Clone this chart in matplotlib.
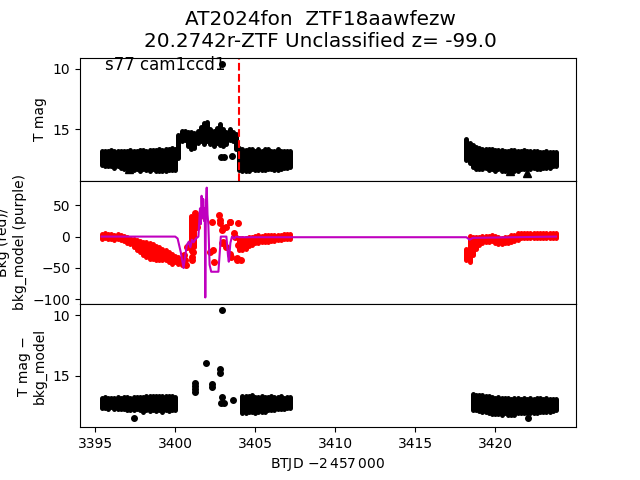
import numpy as np
import matplotlib
matplotlib.use('Agg')
import matplotlib.pyplot as plt

nan = np.nan

# sample times (BTJD - 2457000), first orbit and second orbit
t_a = [3395.4, 3395.6, 3395.8, 3396.0, 3396.2, 3396.4, 3396.6, 3396.8, 3397.0, 3397.2,
       3397.4, 3397.6, 3397.8, 3398.0, 3398.2, 3398.4, 3398.6, 3398.8, 3399.0, 3399.2,
       3399.4, 3399.6, 3399.8, 3400.0, 3400.2, 3400.4, 3400.6, 3400.8, 3401.0, 3401.2,
       3401.4, 3401.6, 3401.8, 3402.0, 3402.2, 3402.4, 3402.6, 3402.8, 3403.0, 3403.2,
       3403.4, 3403.6, 3403.8, 3404.0, 3404.2, 3404.4, 3404.6, 3404.8, 3405.0, 3405.2,
       3405.4, 3405.6, 3405.8, 3406.0, 3406.2, 3406.4, 3406.6, 3406.8, 3407.0, 3407.2]
t_b = [3418.2, 3418.4, 3418.6, 3418.8, 3419.0, 3419.2, 3419.4, 3419.6, 3419.8, 3420.0,
       3420.2, 3420.4, 3420.6, 3420.8, 3421.0, 3421.2, 3421.4, 3421.6, 3421.8, 3422.0,
       3422.2, 3422.4, 3422.6, 3422.8, 3423.0, 3423.2, 3423.4, 3423.6, 3423.8]

# T mag: typical value and scatter at each sample
tmag_a = [17.35, 17.4, 17.4, 17.35, 17.45, 17.4, 17.45, 17.5, 17.5, 17.45,
          17.55, 17.5, 17.55, 17.5, 17.55, 17.55, 17.5, 17.55, 17.5, 17.55,
          17.5, 17.5, 17.45, 17.5, 16.45, 15.55, 15.5, 15.8, 15.9, 15.9,
          15.6, 15.4, 15.35, 15.2, 15.6, 15.75, 15.5, 15.45, 15.7, 15.7,
          15.45, 15.6, 16.0, 17.45, 17.5, 17.55, 17.5, 17.45, 17.55, 17.5,
          17.55, 17.5, 17.45, 17.5, 17.55, 17.5, 17.5, 17.45, 17.5, 17.45]
tmag_sd_a = [0.6, 0.65, 0.6, 0.65, 0.7, 0.65, 0.7, 0.75, 0.7, 0.75,
             0.8, 0.75, 0.85, 0.8, 0.8, 0.85, 0.8, 0.85, 0.9, 0.85,
             0.9, 0.85, 0.9, 0.85, 0.95, 0.45, 0.4, 0.6, 0.7, 0.6,
             0.5, 0.6, 0.85, 0.8, 0.6, 0.65, 0.6, 0.85, 0.7, 0.5,
             0.45, 0.4, 0.6, 0.9, 0.9, 0.85, 0.9, 0.85, 0.8, 0.85,
             0.8, 0.85, 0.8, 0.75, 0.8, 0.85, 0.75, 0.7, 0.7, 0.65]
tmag_b = [16.65, 16.95, 17.2, 17.35, 17.4, 17.45, 17.4, 17.5, 17.45, 17.55,
          17.5, 17.55, 17.6, 17.55, 17.5, 17.55, 17.6, 17.55, 17.5, 17.55,
          17.5, 17.45, 17.5, 17.55, 17.5, 17.45, 17.5, 17.45, 17.45]
tmag_sd_b = [0.85, 0.85, 0.9, 0.9, 0.85, 0.85, 0.8, 0.85, 0.8, 0.85,
             0.8, 0.85, 0.85, 0.8, 0.8, 0.85, 0.8, 0.75, 0.8, 0.75,
             0.75, 0.7, 0.75, 0.7, 0.65, 0.7, 0.65, 0.6, 0.6]
tmag_pts_t = [3402.92, 3402.85, 3403.05, 3403.55]
tmag_pts = [9.65, 17.25, 17.25, 17.2]
ulim_t = [3397.1, 3420.9, 3421.98]
ulim_mag = [18.3, 18.45, 18.6]
event_t = 3403.96

# background flux (red) and background model (purple)
bkg_a = [0, 1, 0, 0, -1, 0, -1, -3, -5, -7,
         -10, -13, -16, -19, -21, -23, -24, -26, -27, -29,
         -30, -33, -36, -36, -38, -40, nan, nan, 5, 8,
         nan, nan, nan, nan, nan, nan, nan, nan, nan, nan,
         nan, nan, nan, -12, -12, -11, -8, -7, -5, -4,
         -4, -3, -3, -2, -2, -2, -1, 0, 0, 0]
bkg_sd_a = [4, 4, 4, 4, 4, 4, 4, 4, 5, 5,
            6, 8, 9, 11, 12, 12, 12, 11, 10, 9,
            8, 8, 8, 5, 6, 6, nan, nan, 28, 25,
            nan, nan, nan, nan, nan, nan, nan, nan, nan, nan,
            nan, nan, nan, 10, 10, 9, 7, 7, 6, 6,
            5, 5, 5, 5, 5, 4, 4, 4, 4, 4]
bkg_b = [-29, -20, -15, -10, -7, -5, -4, -4, -2, -5,
         -6, -7, -5, -5, -3, -2, 0, 1, 1, 1,
         2, 1, 1, 2, 1, 1, 2, 1, 1]
bkg_sd_b = [9, 21, 14, 9, 6, 6, 5, 5, 5, 6,
            6, 5, 5, 5, 6, 5, 5, 4, 4, 4,
            4, 4, 4, 4, 4, 4, 4, 4, 4]
bkg_pts_t = [3400.55, 3400.6, 3400.65, 3400.73, 3401.04, 3401.05, 3401.14, 3401.25,
             3401.35, 3401.45, 3401.5, 3402.2, 3402.3, 3402.35, 3402.4, 3402.71,
             3402.8, 3402.8, 3402.9, 3402.9, 3403.0, 3403.0, 3403.2, 3403.2,
             3403.4, 3403.4, 3403.44, 3403.5, 3403.7, 3403.75, 3403.85, 3403.85,
             3403.9, 3403.9, 3404.1]
bkg_pts = [-30, -37, -45, -16, -32, -37, -24, 37,
           16, 24, 32, -24, 24, -21, -40, 35,
           27, 22, 11, -11, 13, -8, 16, -16,
           24, -27, 24, -32, 6, 0, -37, -34,
           21, -13, -37]
model_t = [3395.4, 3397.0, 3399.0, 3400.0, 3400.15, 3400.35, 3400.52, 3400.6,
           3400.73, 3400.85, 3400.95, 3401.05, 3401.15, 3401.3, 3401.45, 3401.55,
           3401.6, 3401.65, 3401.7, 3401.75, 3401.8, 3401.85, 3401.88, 3401.92,
           3401.97, 3402.02, 3402.07, 3402.15, 3402.25, 3402.7, 3402.8, 3402.85,
           3403.2, 3403.3, 3403.35, 3403.45, 3403.55, 3403.7, 3403.8, 3404.0,
           3407.2, 3418.2, 3418.4, 3418.6, 3423.8]
model = [0, 0, 0, 0, -3, -25, -50, -35,
         -13, -8, -17, -5, -9, -3, 0, 45,
         20, 65, 30, 60, 25, 45, -97, 55,
         78, 35, 20, -45, -56, -56, -20, 0,
         0, -30, -40, -10, 0, -3, 0, -1,
         -1, -1, -5, -2, 0]

# T mag - bkg_model
diff_a = [17.25, 17.2, 17.25, 17.2, 17.3, 17.25, 17.3, 17.25, 17.3, 17.35,
          17.3, 17.25, 17.3, 17.35, 17.25, 17.3, 17.25, 17.3, 17.25, 17.3,
          17.25, 17.3, 17.25, 17.3, nan, nan, nan, nan, nan, nan,
          nan, nan, nan, nan, nan, nan, nan, nan, nan, nan,
          nan, nan, nan, nan, 17.35, 17.4, 17.35, 17.3, 17.4, 17.35,
          17.3, 17.35, 17.3, 17.25, 17.3, 17.25, 17.2, 17.25, 17.2, 17.2]
diff_sd_a = [0.4, 0.45, 0.45, 0.4, 0.45, 0.5, 0.45, 0.5, 0.55, 0.5,
             0.55, 0.5, 0.55, 0.6, 0.55, 0.6, 0.55, 0.6, 0.6, 0.65,
             0.6, 0.6, 0.6, 0.55, nan, nan, nan, nan, nan, nan,
             nan, nan, nan, nan, nan, nan, nan, nan, nan, nan,
             nan, nan, nan, nan, 0.7, 0.7, 0.65, 0.7, 0.65, 0.6,
             0.65, 0.6, 0.55, 0.6, 0.55, 0.5, 0.5, 0.45, 0.45, 0.45]
diff_b = [nan, nan, 17.15, 17.2, 17.25, 17.3, 17.35, 17.4, 17.45, 17.5,
          17.45, 17.5, 17.45, 17.5, 17.55, 17.5, 17.45, 17.5, 17.45, 17.5,
          17.45, 17.5, 17.45, 17.4, 17.45, 17.4, 17.45, 17.4, 17.4]
diff_sd_b = [nan, nan, 0.65, 0.65, 0.65, 0.7, 0.65, 0.7, 0.7, 0.65,
             0.7, 0.7, 0.65, 0.7, 0.65, 0.7, 0.65, 0.6, 0.65, 0.6,
             0.6, 0.55, 0.6, 0.55, 0.5, 0.55, 0.5, 0.5, 0.45]
diff_pts_t = [3402.92, 3401.94, 3402.81, 3402.81, 3401.25, 3401.25, 3401.25, 3401.25,
              3402.3, 3402.3, 3402.92, 3402.85, 3403.05, 3403.64, 3422.08, 3397.4]
diff_pts = [9.6, 13.98, 14.45, 14.8, 15.6, 15.85, 16.1, 16.35,
            15.65, 15.95, 16.73, 17.28, 17.28, 17.0, 18.5, 18.45]


def band(ax, t, mid, sd, color):
    """Draw the dense cloud of points as a scatter band."""
    mid = np.array(mid, dtype=float)
    sd = np.array(sd, dtype=float)
    ok = ~np.isnan(mid)
    t = np.array(t)[ok]
    ax.vlines(t, mid[ok] - sd[ok], mid[ok] + sd[ok], colors=color, lw=3.6, capstyle='round')


fig, axes = plt.subplots(3, 1, sharex=True, figsize=(6.4, 4.8), dpi=100)
fig.subplots_adjust(hspace=0)
fig.suptitle("AT2024fon  ZTF18aawfezw\n20.2742r-ZTF Unclassified z= -99.0", fontsize=14.4)

# top: T mag
ax = axes[0]
band(ax, t_a, tmag_a, tmag_sd_a, 'k')
band(ax, t_b, tmag_b, tmag_sd_b, 'k')
ax.plot(tmag_pts_t, tmag_pts, 'ko', ms=4)
ax.plot(ulim_t, ulim_mag, 'k^', ms=6)
ax.axvline(event_t, color='r', ls='--', lw=1.5)
ax.text(3395.6, 10.1, "s77 cam1ccd1", fontsize=12)
ax.set_ylim(19.24, 9.09)
ax.set_yticks([10, 15])
ax.set_ylabel("T mag")

# middle: background
ax = axes[1]
band(ax, t_a, bkg_a, bkg_sd_a, 'r')
band(ax, t_b, bkg_b, bkg_sd_b, 'r')
ax.plot(bkg_pts_t, bkg_pts, 'ro', ms=4)
ax.plot(model_t, model, color='m', lw=1.5)
ax.set_ylim(-107.4, 88.9)
ax.set_yticks([-100, -50, 0, 50])
ax.set_ylabel("Bkg (red)/\nbkg_model (purple)")

# bottom: T mag - bkg_model
ax = axes[2]
band(ax, t_a, diff_a, diff_sd_a, 'k')
band(ax, t_b, diff_b, diff_sd_b, 'k')
ax.plot(diff_pts_t, diff_pts, 'ko', ms=4)
ax.set_ylim(19.24, 9.09)
ax.set_yticks([10, 15])
ax.set_ylabel("T mag \u2212\nbkg_model")
ax.set_xlim(3394.05, 3425.05)
ax.set_xticks([3395, 3400, 3405, 3410, 3415, 3420])
ax.set_xlabel(r"BTJD $-2\,457\,000$")

fig.savefig("out.png", dpi=100)
